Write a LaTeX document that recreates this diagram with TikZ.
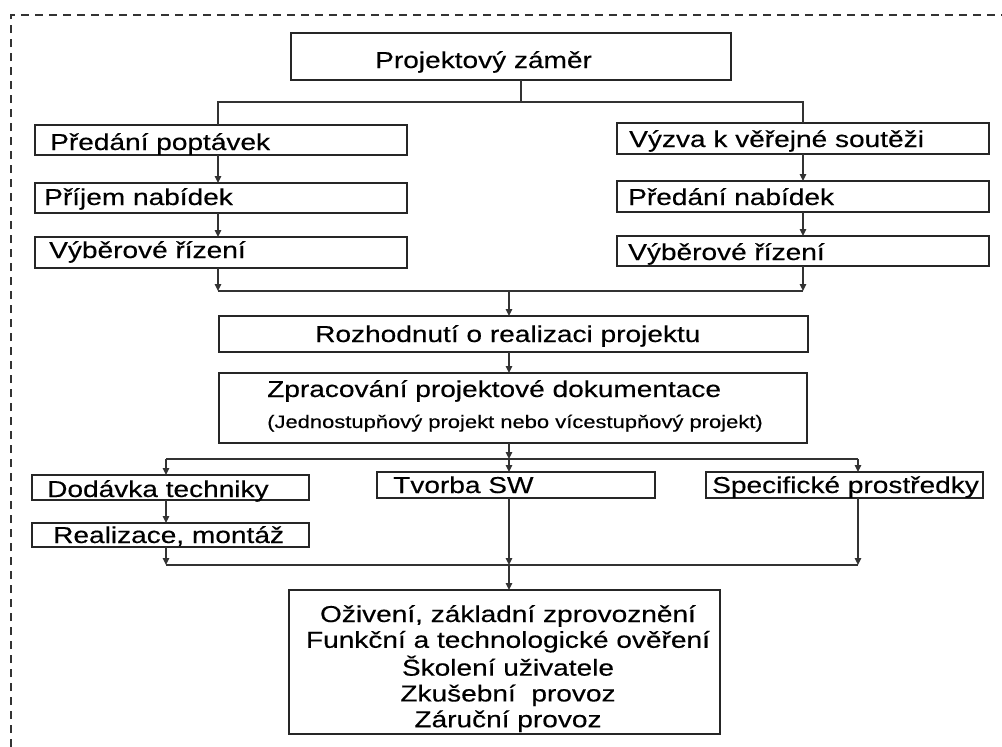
\documentclass[tikz,border=0pt]{standalone}
\usepackage{fontspec}
\setmainfont[FakeBold=0.3]{Liberation Sans}
\usetikzlibrary{arrows.meta,calc}

% wide lettering used throughout the chart
\newcommand\wtxt[1]{\scalebox{1.22}[1]{#1}}

\begin{document}
\begin{tikzpicture}[x=1pt,y=-1pt,
  line join=miter,
  frame/.style={draw=black!85,line width=1.5pt,inner sep=0pt,outer sep=0pt},
  lbl/.style={inner sep=0pt,anchor=base west,text=black,font=\fontsize{23}{26}\selectfont},
  small/.style={inner sep=0pt,anchor=base west,text=black,font=\fontsize{18}{21}\selectfont},
  wire/.style={draw=black!80,line width=1.3pt},
  arr/.style={wire,-{Triangle[length=7pt,width=6.5pt]}},
  border/.style={draw=black!80,line width=1.6pt,dash pattern=on 8pt off 6pt}]

\useasboundingbox (0,0) rectangle (1002,747);

% outer dashed frame (only top and left edges fall inside the page)
\draw[border] (11,747) -- (11,15) -- (1002,15);

% boxes: centre and size
\newcommand\cell[5]{\node[frame,minimum width=#4pt,minimum height=#5pt] (#1) at (#2,#3) {};}
\cell{pz}{511}{56.5}{440}{47}
\cell{l1}{221}{140}{372}{30}
\cell{l2}{221}{198}{372}{30}
\cell{l3}{221}{252.5}{372}{31}
\cell{r1}{803}{138.5}{372}{31}
\cell{r2}{803}{196.5}{372}{31}
\cell{r3}{803}{251}{372}{30}
\cell{roz}{513.5}{334}{589}{36}
\cell{zpr}{513}{408}{588}{70}
\cell{dod}{170.5}{487.5}{277}{25}
\cell{rea}{170.5}{535}{277}{24}
\cell{sw}{516}{485}{278}{26}
\cell{spec}{844.5}{485}{277}{26}
\cell{fin}{504.5}{662}{431}{144}

% texts
\node[lbl] (pzt) at (375,68) {\wtxt{Projektový záměr}};
\node[lbl] (l1t) at (50,150) {\wtxt{Předání poptávek}};
\node[lbl] (l2t) at (44,205) {\wtxt{Příjem nabídek}};
\node[lbl] (l3t) at (49,258) {\wtxt{Výběrové řízení}};
\node[lbl] (r1t) at (629,147) {\wtxt{Výzva k věřejné soutěži}};
\node[lbl] (r2t) at (628,205) {\wtxt{Předání nabídek}};
\node[lbl] (r3t) at (628,260) {\wtxt{Výběrové řízení}};
\node[lbl] (rozt) at (315,342) {\wtxt{Rozhodnutí o realizaci projektu}};
\node[lbl] (zprt) at (267,397) {\wtxt{Zpracování projektové dokumentace}};
\node[small] (zprs) at (267,428) {\wtxt{(Jednostupňový projekt nebo vícestupňový projekt)}};
\node[lbl] (dodt) at (47,497) {\wtxt{Dodávka techniky}};
\node[lbl] (reat) at (53,543) {\wtxt{Realizace, montáž}};
\node[lbl] (swt) at (393,493) {\wtxt{Tvorba SW}};
\node[lbl] (spect) at (712,493) {\wtxt{Specifické prostředky}};
\node[inner sep=0pt,anchor=base,text=black,font=\fontsize{23}{25.8}\selectfont] (fint) at (508,622)
  {\wtxt{\begin{tabular}[t]{@{}c@{}}Oživení, základní zprovoznění\\
   Funkční a technologické ověření\\ Školení uživatele\\
   Zkušební~ provoz\\ Záruční provoz\end{tabular}}};

% column guides for the connectors
\coordinate (cT) at (521,0);
\coordinate (cL) at (218,0);
\coordinate (cR) at (803,0);
\coordinate (cM) at (509,0);
\coordinate (cA) at (166,0);
\coordinate (cC) at (858,0);
\coordinate (rowA) at (0,102);
\coordinate (rowB) at (0,291);
\coordinate (rowC) at (0,459);
\coordinate (rowD) at (0,565);

% split below the project intent
\draw[wire] (cT |- pz.south) -- (cT |- rowA);
\draw[wire] (cL |- l1.north) -- (cL |- rowA) -- (cR |- rowA) -- (cR |- r1.north);

% left and right tender branches
\draw[arr] (cL |- l1.south) -- (cL |- l2.north);
\draw[arr] (cL |- l2.south) -- (cL |- l3.north);
\draw[arr] (cL |- l3.south) -- (cL |- rowB);
\draw[arr] (cR |- r1.south) -- (cR |- r2.north);
\draw[arr] (cR |- r2.south) -- (cR |- r3.north);
\draw[arr] (cR |- r3.south) -- (cR |- rowB);
\draw[wire] (cL |- rowB) -- (cR |- rowB);

% decision and documentation
\draw[arr] (cM |- rowB) -- (cM |- roz.north);
\draw[arr] (cM |- roz.south) -- (cM |- zpr.north);
\draw[arr] (cM |- zpr.south) -- (cM |- rowC);
\draw[wire] (cA |- rowC) -- (cC |- rowC);

% three implementation streams
\draw[arr] (cA |- rowC) -- (cA |- dod.north);
\draw[arr] (cM |- rowC) -- (cM |- sw.north);
\draw[arr] (cC |- rowC) -- (cC |- spec.north);
\draw[arr] (cA |- dod.south) -- (cA |- rea.north);
\draw[arr] (cA |- rea.south) -- (cA |- rowD);
\draw[arr] (cM |- sw.south) -- (cM |- rowD);
\draw[arr] (cC |- spec.south) -- (cC |- rowD);
\draw[wire] (cA |- rowD) -- (cC |- rowD);

% commissioning
\draw[arr] (cM |- rowD) -- (cM |- fin.north);
\end{tikzpicture}
\end{document}
